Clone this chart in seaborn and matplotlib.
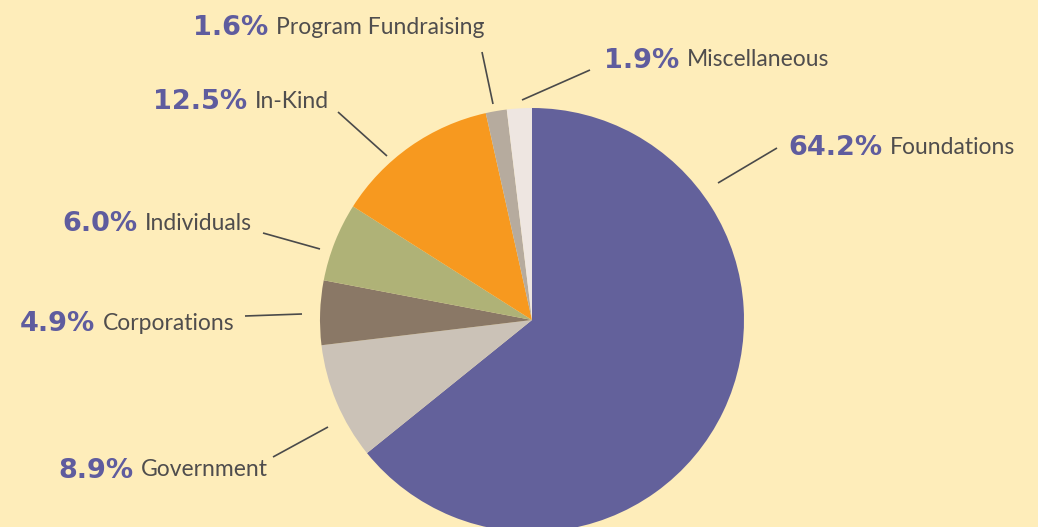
import matplotlib
matplotlib.use("Agg")
import matplotlib.pyplot as plt
import seaborn as sns

# Funding sources (share of total, %)
categories = ["Foundations", "Government", "Corporations", "Individuals",
              "In-Kind", "Program Fundraising", "Miscellaneous"]
shares = [64.2, 8.9, 4.9, 6.0, 12.5, 1.6, 1.9]
pct_labels = ["64.2%", "8.9%", "4.9%", "6.0%", "12.5%", "1.6%", "1.9%"]
colors = ["#63619b", "#cbc2b7", "#8a7866", "#afb277", "#f7991f", "#b6ab9e", "#eee6e1"]

sns.set_theme(style="white")
plt.rcParams["font.family"] = ["Lato", "DejaVu Sans"]

W, H = 1038, 527
bg = "#feedba"
fig = plt.figure(figsize=(W / 100, H / 100), dpi=100, facecolor=bg)
ax = fig.add_axes([0, 0, 1, 1])
ax.set_facecolor(bg)

# pie centre / radius in pixel units (y flipped)
cx, cy, r = 532, H - 320, 212
ax.pie(shares, colors=colors, startangle=90, counterclock=False,
       center=(cx, cy), radius=r, frame=True,
       wedgeprops=dict(linewidth=0))
ax.set_xlim(0, W)
ax.set_ylim(0, H)
ax.set_aspect("equal")
ax.axis("off")

# leader lines (inner end, outer end) and label anchor (left x, centre y) in pixels
leaders = {
    "Foundations": ((718, 183), (777, 148), (788, 148)),
    "Government": ((328, 427), (273, 457), (58, 471)),
    "Corporations": ((302, 314), (245, 316), (20, 324)),
    "Individuals": ((320, 249), (263, 233), (62, 224)),
    "In-Kind": ((387, 156), (338, 112), (153, 102)),
    "Program Fundraising": ((493, 104), (482, 52), (193, 28)),
    "Miscellaneous": ((522, 100), (590, 70), (604, 61)),
}

fig.canvas.draw()
renderer = fig.canvas.get_renderer()
for cat, pct in zip(categories, pct_labels):
    (x0, y0), (x1, y1), (tx, ty) = leaders[cat]
    ax.plot([x0, x1], [H - y0, H - y1], color="#4a4a4a", lw=1.2, solid_capstyle="butt")
    t = ax.text(tx, H - ty, pct, color="#5f5c9e", fontsize=19.5, fontweight="bold",
                family="DejaVu Sans", ha="left", va="center")
    bb = t.get_window_extent(renderer)
    ax.text(bb.x1 + 8, H - ty + 1, cat, color="#4f4d4d", fontsize=16.5,
            fontweight="normal", ha="left", va="center")

plt.savefig("out.png", dpi=100, facecolor=bg)
